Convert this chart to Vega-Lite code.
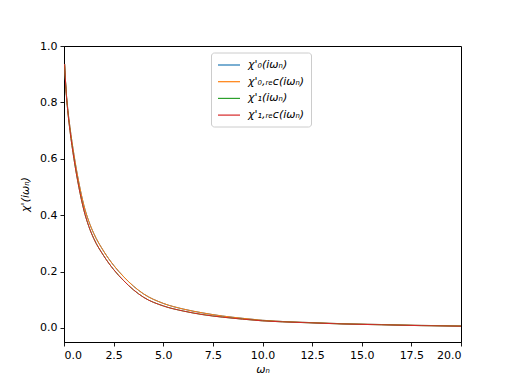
{
  "$schema": "https://vega.github.io/schema/vega-lite/v6.json",
  "width": 397,
  "height": 296,
  "autosize": {"type": "none"},
  "padding": {"left": 64, "top": 46, "right": 51, "bottom": 42},
  "background": "white",
  "config": {
    "view": {"stroke": "black", "strokeWidth": 1},
    "font": "DejaVu Sans",
    "axis": {
      "domainColor": "black",
      "domainWidth": 1,
      "tickColor": "black",
      "tickWidth": 0.9,
      "tickSize": 4,
      "labelFont": "DejaVu Sans",
      "labelFontSize": 11,
      "labelColor": "black",
      "labelPadding": 3,
      "titleFont": "DejaVu Sans",
      "titleFontSize": 11,
      "titleFontWeight": "normal",
      "titleFontStyle": "italic",
      "titleColor": "black",
      "grid": false
    }
  },
  "data": {
    "values": [
      {"w": 0.03, "a": 0.936, "b": 0.936, "c": 0.936, "d": 0.936},
      {"w": 0.1, "a": 0.85, "b": 0.85, "c": 0.845, "d": 0.845},
      {"w": 0.2, "a": 0.77, "b": 0.77, "c": 0.762, "d": 0.762},
      {"w": 0.3, "a": 0.712, "b": 0.712, "c": 0.7, "d": 0.7},
      {"w": 0.5, "a": 0.615, "b": 0.615, "c": 0.6, "d": 0.6},
      {"w": 0.75, "a": 0.515, "b": 0.515, "c": 0.499, "d": 0.499},
      {"w": 1.0, "a": 0.435, "b": 0.435, "c": 0.418, "d": 0.418},
      {"w": 1.25, "a": 0.378, "b": 0.378, "c": 0.36, "d": 0.36},
      {"w": 1.5, "a": 0.335, "b": 0.335, "c": 0.317, "d": 0.317},
      {"w": 2.0, "a": 0.272, "b": 0.272, "c": 0.256, "d": 0.256},
      {"w": 2.5, "a": 0.222, "b": 0.222, "c": 0.207, "d": 0.207},
      {"w": 3.0, "a": 0.182, "b": 0.182, "c": 0.168, "d": 0.168},
      {"w": 3.5, "a": 0.148, "b": 0.148, "c": 0.135, "d": 0.135},
      {"w": 4.0, "a": 0.121, "b": 0.121, "c": 0.109, "d": 0.109},
      {"w": 5.0, "a": 0.087, "b": 0.087, "c": 0.078, "d": 0.078},
      {"w": 6.0, "a": 0.067, "b": 0.067, "c": 0.06, "d": 0.06},
      {"w": 7.0, "a": 0.053, "b": 0.053, "c": 0.047, "d": 0.047},
      {"w": 8.0, "a": 0.042, "b": 0.042, "c": 0.038, "d": 0.038},
      {"w": 9.0, "a": 0.034, "b": 0.034, "c": 0.031, "d": 0.031},
      {"w": 10.0, "a": 0.027, "b": 0.027, "c": 0.025, "d": 0.025},
      {"w": 12.0, "a": 0.020, "b": 0.020, "c": 0.019, "d": 0.019},
      {"w": 14.0, "a": 0.015, "b": 0.015, "c": 0.014, "d": 0.014},
      {"w": 16.0, "a": 0.012, "b": 0.012, "c": 0.011, "d": 0.011},
      {"w": 18.0, "a": 0.009, "b": 0.009, "c": 0.008, "d": 0.008},
      {"w": 20.0, "a": 0.007, "b": 0.007, "c": 0.006, "d": 0.006}
    ]
  },
  "transform": [{"fold": ["a", "b", "c", "d"], "as": ["series", "chi"]}],
  "mark": {"type": "line", "strokeWidth": 1, "clip": true, "interpolate": "monotone"},
  "encoding": {
    "x": {
      "field": "w",
      "type": "quantitative",
      "scale": {"domain": [0, 20], "nice": false, "zero": false},
      "axis": {"values": [0, 2.5, 5, 7.5, 10, 12.5, 15, 17.5, 20], "format": ".1f", "title": "ωₙ", "titlePadding": 3}
    },
    "y": {
      "field": "chi",
      "type": "quantitative",
      "scale": {"domain": [-0.05, 1.0], "nice": false, "zero": false},
      "axis": {"values": [0, 0.2, 0.4, 0.6, 0.8, 1.0], "format": ".1f", "title": "χ'(iωₙ)", "titlePadding": 9}
    },
    "color": {
      "field": "series",
      "type": "nominal",
      "scale": {"domain": ["a", "b", "c", "d"], "range": ["#1f77b4", "#ff7f0e", "#2ca02c", "#d62728"]},
      "legend": {
        "title": null,
        "orient": "none",
        "legendX": 147,
        "legendY": 6.5,
        "padding": 6,
        "fillColor": "rgba(255,255,255,0.8)",
        "strokeColor": "#cccccc",
        "cornerRadius": 3,
        "symbolType": "M-1,0H3",
        "symbolSize": 121,
        "symbolStrokeWidth": 1.2,
        "symbolFillColor": "transparent",
        "symbolOpacity": 1,
        "labelFont": "DejaVu Sans",
        "labelFontStyle": "italic",
        "labelFontSize": 11,
        "labelColor": "black",
        "labelOffset": 18,
        "rowPadding": 4.7,
        "labelExpr": "datum.value == 'a' ? \"χ'₀(iωₙ)\" : datum.value == 'b' ? \"χ'₀,ᵣₑc(iωₙ)\" : datum.value == 'c' ? \"χ'₁(iωₙ)\" : \"χ'₁,ᵣₑc(iωₙ)\""
      }
    }
  }
}
